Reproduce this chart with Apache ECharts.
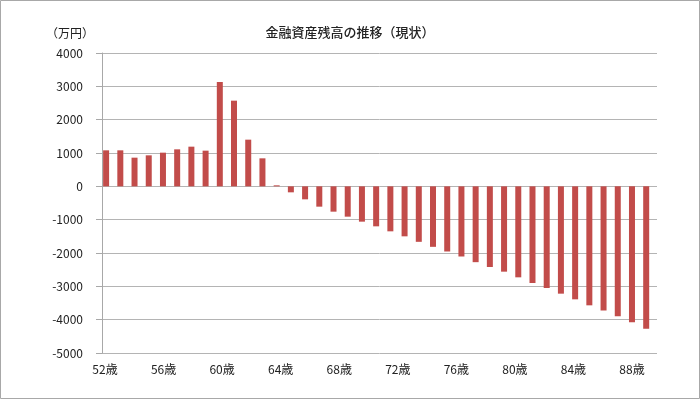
<!DOCTYPE html>
<html>
<head>
<meta charset="utf-8">
<script src="https://cdn.jsdelivr.net/npm/echarts@6/dist/echarts.min.js"></script>
<style>
html,body{margin:0;padding:0;background:#fff;}
#chart{width:700px;height:399px;}
</style>
</head>
<body>
<div id="chart"></div>
<script>
const titleText = '金融資産残高の推移（現状）';
const unitText = '（万円）';
const ages = ['52歳','53歳','54歳','55歳','56歳','57歳','58歳','59歳','60歳','61歳','62歳','63歳','64歳','65歳','66歳','67歳','68歳','69歳','70歳','71歳','72歳','73歳','74歳','75歳','76歳','77歳','78歳','79歳','80歳','81歳','82歳','83歳','84歳','85歳','86歳','87歳','88歳','89歳','90歳'];
const balance = [1080,1080,860,930,1010,1110,1190,1070,3130,2570,1400,840,30,-180,-390,-610,-760,-910,-1060,-1200,-1350,-1500,-1665,-1815,-1955,-2105,-2275,-2420,-2560,-2730,-2900,-3050,-3220,-3390,-3570,-3725,-3895,-4075,-4275];
const yMin = -5000, yMax = 4000, yStep = 1000;

const FONT = "'Noto Sans CJK JP', sans-serif";
const chart = echarts.init(document.getElementById('chart'), null, {renderer:'canvas'});
const common = {top:53, height:300};
chart.setOption({
  animation:false,
  backgroundColor:'#fff',
  textStyle:{fontFamily:FONT},
  title:[
    {text:titleText, left:'center', top:21, textStyle:{fontFamily:FONT, fontSize:13, fontWeight:500, color:'#222'}},
    {text:unitText, left:41, top:22, textStyle:{fontFamily:FONT, fontSize:12, fontWeight:'normal', color:'#222'}}
  ],
  graphic:[{type:'rect', shape:{x:0.5,y:0.5,width:699,height:398}, style:{fill:'none', stroke:'#a8a8a8', lineWidth:1}, silent:true, z:100}],
  grid:[
    Object.assign({left:102, right:43}, common),
    Object.assign({left:99, right:46.7}, common),
    Object.assign({left:105, right:38.7}, common)
  ],
  xAxis:[
    {gridIndex:0, type:'category', data:ages, show:false},
    {gridIndex:1, type:'category', data:ages, show:false},
    {gridIndex:2, type:'category', data:ages, boundaryGap:false,
      axisLine:{show:false, onZero:false}, axisTick:{show:false}, splitLine:{show:false},
      axisLabel:{interval:function(i){return i % 4 === 0 && i < 38;}, hideOverlap:false, margin:10, fontSize:12, color:'#222', fontFamily:FONT}}
  ],
  yAxis:[
    {gridIndex:0, type:'value', min:yMin, max:yMax, interval:yStep,
      axisLine:{show:true, lineStyle:{color:'#a8a8a8', width:1}},
      axisTick:{show:true, length:6, lineStyle:{color:'#a8a8a8'}},
      axisLabel:{margin:19, fontSize:12, color:'#222', fontFamily:FONT, formatter:function(v){return String(v);}},
      splitLine:{show:true, lineStyle:{color:'#b4b4b4', width:1}}},
    {gridIndex:1, type:'value', min:yMin, max:yMax, interval:yStep, show:false, splitLine:{show:false}},
    {gridIndex:2, type:'value', min:yMin, max:yMax, interval:yStep, show:false, splitLine:{show:false}}
  ],
  series:[{
    type:'bar', xAxisIndex:1, yAxisIndex:1, data:balance, barWidth:6,
    itemStyle:{color:'#c24c4a'}
  }]
});
</script>
</body>
</html>
